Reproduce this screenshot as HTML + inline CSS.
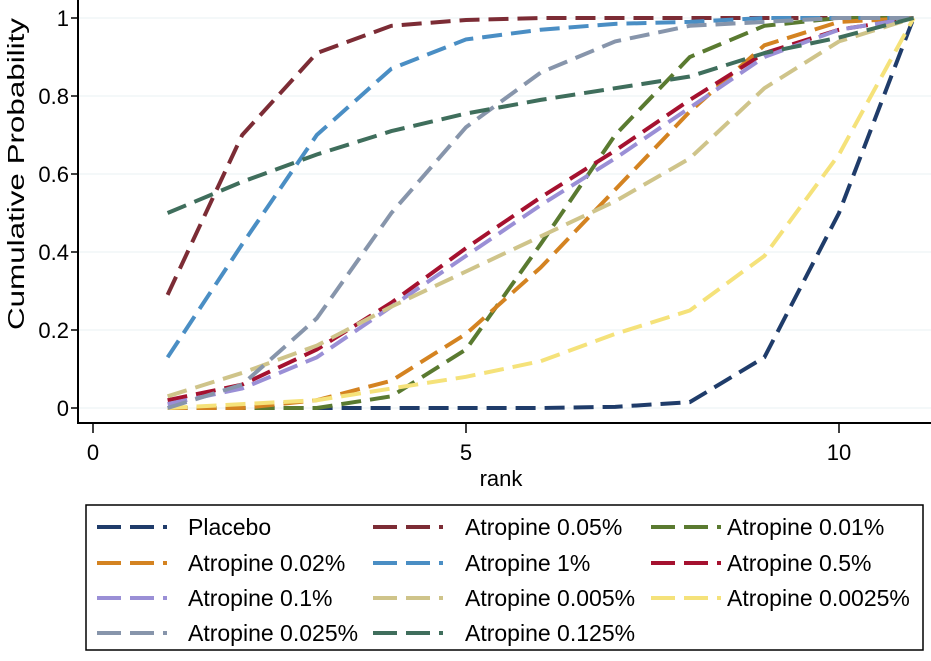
<!DOCTYPE html>
<html><head><meta charset="utf-8"><style>
body{margin:0;background:#fff;}
svg text{font-family:"Liberation Sans Narrow","Liberation Sans",sans-serif;fill:#000;}
</style></head><body>
<svg id="chart" width="931" height="656" viewBox="0 0 931 656" xmlns="http://www.w3.org/2000/svg">
<rect x="0" y="0" width="931" height="656" fill="#fff"/>
<g id="grid"></g>
<g id="series"></g>
<g id="axes"></g>
<g id="legend"></g>
</svg>
<script>
const ranks=[1,2,3,4,5,6,7,8,9,10,11];
const names=["Placebo","Atropine 0.05%","Atropine 0.01%","Atropine 0.02%","Atropine 1%","Atropine 0.5%","Atropine 0.1%","Atropine 0.005%","Atropine 0.0025%","Atropine 0.025%","Atropine 0.125%"];
const colors=["#1f3c6a","#7c2c35","#5a7a30","#d48321","#4a8ec4","#a5112f","#9a8fd6","#cfc48a","#f5e27a","#8795ab","#3f6e5c"];
const placebo=[0,0,0,0,0,0,0.003,0.015,0.13,0.5,1];
const a005=[0.29,0.70,0.91,0.98,0.995,1,1,1,1,1,1];
const a001=[0,0,0,0.03,0.15,0.42,0.70,0.90,0.98,1,1];
const a002=[0,0,0.02,0.07,0.19,0.36,0.56,0.76,0.93,0.99,1];
const a1=[0.13,0.42,0.70,0.87,0.945,0.97,0.985,0.99,1,1,1];
const a05=[0.02,0.06,0.15,0.27,0.41,0.54,0.66,0.79,0.91,0.97,1];
const a01=[0.01,0.05,0.13,0.26,0.39,0.52,0.64,0.77,0.90,0.97,1];
const a0005=[0.03,0.09,0.16,0.26,0.35,0.44,0.53,0.64,0.82,0.94,1];
const a00025=[0,0.01,0.02,0.05,0.08,0.12,0.19,0.25,0.39,0.65,1];
const a0025=[0,0.06,0.23,0.50,0.72,0.86,0.94,0.98,0.99,1,1];
const a0125=[0.50,0.58,0.65,0.71,0.755,0.79,0.82,0.85,0.91,0.95,1];
const seriesVals=[placebo,a005,a001,a002,a1,a05,a01,a0005,a00025,a0025,a0125];
const xTicks=[0,5,10];
const yTicks=[0,0.2,0.4,0.6,0.8,1];
const yTickLabels=["0","0.2","0.4","0.6","0.8","1"];

const NS="http://www.w3.org/2000/svg";
const X=v=>93+v*74.6;
const Y=v=>408-v*390;
function mk(tag,attrs,parent){const e=document.createElementNS(NS,tag);for(const k in attrs)e.setAttribute(k,attrs[k]);parent.appendChild(e);return e;}
const grid=document.getElementById('grid'),ser=document.getElementById('series'),ax=document.getElementById('axes'),lg=document.getElementById('legend');

yTicks.forEach((t,i)=>{
 const g=mk('line',{x1:79,x2:931,y1:Y(t),y2:Y(t),stroke:'#eaf2f3','stroke-width':1},grid);
 
 
 const tk=mk('line',{x1:71,x2:78,y1:Y(t),y2:Y(t),stroke:'#000','stroke-width':1.5},ax);
 
 
 const tx=mk('text',{x:69,y:Y(t)+8,'text-anchor':'end','font-size':22},ax);
 tx.textContent=yTickLabels[i];
 
 
});
xTicks.forEach(t=>{
 const tk=mk('line',{x1:X(t),x2:X(t),y1:423,y2:433,stroke:'#000','stroke-width':1.5},ax);
 
 
 const tx=mk('text',{x:X(t),y:460,'text-anchor':'middle','font-size':22},ax);
 tx.textContent=String(t);
 
 
});
const ya=mk('line',{x1:78,x2:78,y1:0,y2:424,stroke:'#000','stroke-width':2},ax);


const xa=mk('line',{x1:77,x2:931,y1:423,y2:423,stroke:'#000','stroke-width':2},ax);


const xt=mk('text',{x:501,y:486,'text-anchor':'middle','font-size':22},ax);
xt.textContent='rank';


const yt=mk('text',{x:24,y:174,'text-anchor':'middle','font-size':23,textLength:312,lengthAdjust:'spacingAndGlyphs',transform:'rotate(-90 24 174)'},ax);
yt.textContent='Cumulative Probability';



seriesVals.forEach((vals,i)=>{
 const pts=vals.map((v,j)=>X(ranks[j])+','+Y(v)).join(' ');
 const pl=mk('polyline',{points:pts,fill:'none',stroke:colors[i],'stroke-width':4,'stroke-dasharray':'20 9'},ser);
 
 
});

const box=mk('rect',{x:86,y:505,width:837,height:145,fill:'#fff',stroke:'#000','stroke-width':1.5},lg);


const colLine=[97,373,651],colText=[188,465,727],rowY=[527,563,598,633];
names.forEach((n,i)=>{
 const c=i%3,r=Math.floor(i/3);
 const l=mk('line',{x1:colLine[c],x2:colLine[c]+70,y1:rowY[r],y2:rowY[r],stroke:colors[i],'stroke-width':4,'stroke-dasharray':'24 9'},lg);
 
 
 const t=mk('text',{x:colText[c],y:rowY[r]+8,'font-size':23},lg);
 t.textContent=n;
 
 
});
</script>
</body></html>
